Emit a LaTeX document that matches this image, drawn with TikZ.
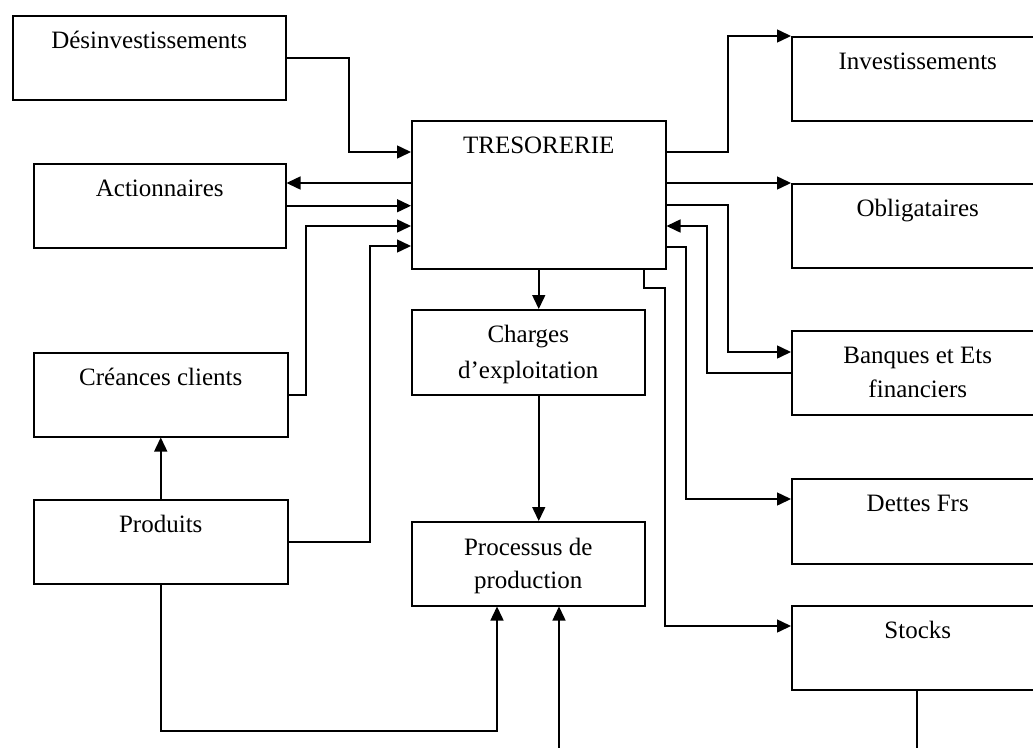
\documentclass[tikz,border=0pt]{standalone}
\usepackage{fontspec}
\setmainfont{Liberation Serif}
\usetikzlibrary{arrows.meta,calc}
\begin{document}
\begin{tikzpicture}[x=1pt,y=-1pt,
  box/.style={draw, line width=1.5pt, inner sep=0pt, anchor=north west},
  lbl/.style={anchor=base, inner sep=0pt, font=\fontsize{25}{30}\selectfont},
  conn/.style={line width=1.5pt},
  arr/.style={conn, -{Triangle[length=14pt,width=13pt]}}]
\useasboundingbox (0,0) rectangle (1033,747);
\clip (0,0) rectangle (1033,747);
\fill[white] (0,0) rectangle (1033,747);

% boxes
\node[box, minimum width=273pt, minimum height=84pt] (des) at (12,15) {};
\node[box, minimum width=252pt, minimum height=84pt] (act) at (33,163) {};
\node[box, minimum width=254pt, minimum height=84pt] (cre) at (33,352) {};
\node[box, minimum width=254pt, minimum height=84pt] (pro) at (33,499) {};
\node[box, minimum width=254pt, minimum height=148pt] (tres) at (411,120) {};
\node[box, minimum width=233pt, minimum height=85pt] (cha) at (411,309) {};
\node[box, minimum width=233pt, minimum height=84pt] (proc) at (411,521) {};
\node[box, minimum width=252pt, minimum height=84pt] (inv) at (791,36) {};
\node[box, minimum width=252pt, minimum height=84pt] (obl) at (791,183) {};
\node[box, minimum width=252pt, minimum height=84pt] (ban) at (791,330) {};
\node[box, minimum width=252pt, minimum height=85pt] (det) at (791,478) {};
\node[box, minimum width=252pt, minimum height=84pt] (sto) at (791,605) {};

% labels
\node[lbl] (des-t) at ($(des.north)+(0,33)$) {Désinvestissements};
\node[lbl] (act-t) at ($(act.north)+(0,33)$) {Actionnaires};
\node[lbl] (cre-t) at ($(cre.north)+(0,33)$) {Créances clients};
\node[lbl] (pro-t) at ($(pro.north)+(0,33)$) {Produits};
\node[lbl] (tres-t) at ($(tres.north)+(0,33)$) {TRESORERIE};
\node[lbl] (cha-t1) at ($(cha.north)+(0,33)$) {Charges};
\node[lbl] (cha-t2) at ($(cha.north)+(0,69)$) {d’exploitation};
\node[lbl] (proc-t1) at ($(proc.north)+(0,34)$) {Processus de};
\node[lbl] (proc-t2) at ($(proc.north)+(0,67)$) {production};
\node[lbl] (inv-t) at ($(inv.north)+(0,33)$) {Investissements};
\node[lbl] (obl-t) at ($(obl.north)+(0,33)$) {Obligataires};
\node[lbl] (ban-t1) at ($(ban.north)+(0,33)$) {Banques et Ets};
\node[lbl] (ban-t2) at ($(ban.north)+(0,67)$) {financiers};
\node[lbl] (det-t) at ($(det.north)+(0,33)$) {Dettes Frs};
\node[lbl] (sto-t) at ($(sto.north)+(0,33)$) {Stocks};

% connectors, left side
\draw[arr] (des.east) -| (349,152) -- (tres.west |- 0,152);
\draw[arr] (tres.west |- 0,183) -- (act.east |- 0,183);
\draw[arr] (act.east) -- (tres.west |- act.east);
\draw[arr] (cre.east) -| (306,226) -- (tres.west |- 0,226);
\draw[arr] (pro.east) -| (370,246) -- (tres.west |- 0,246);
\draw[arr] (pro.north) -- (cre.south);
\draw[arr] (pro.south) |- (497,731) -- (proc.south -| 497,0);
\coordinate (inb) at (559,752);
\draw[arr] (inb) -- (proc.south -| inb);

% centre
\draw[arr] (tres.south) -- (tres.south |- cha.north);
\draw[arr] (cha.south -| tres.south) -- (proc.north -| tres.south);

% connectors, right side
\draw[arr] (tres.east |- 0,152) -| (728,36) -- (inv.north west);
\draw[arr] (tres.east |- 0,183) -- (obl.north west);
\draw[arr] (tres.east |- 0,205) -| (728,352) -- (ban.west |- 0,352);
\draw[arr] (ban.west |- 0,373) -| (707,226) -- (tres.east |- 0,226);
\draw[arr] (tres.east |- 0,247) -| (686,499) -- (det.west |- 0,499);
\draw[arr] (tres.south -| 644,0) -- (644,288) -| (665,626) -- (sto.west |- 0,626);
\coordinate (outb) at (917,752);
\draw[conn] (sto.south -| outb) -- (outb);
\end{tikzpicture}
\end{document}
